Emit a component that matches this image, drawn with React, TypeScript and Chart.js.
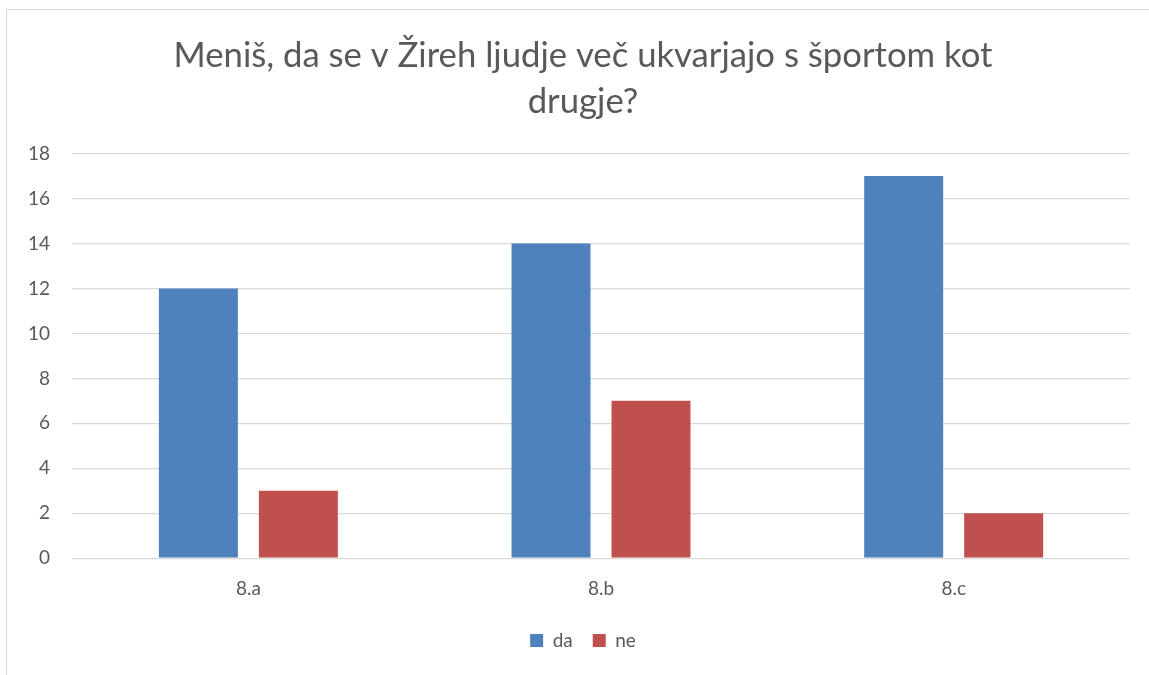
import React, { useEffect, useRef } from "react";
import { Chart, registerables } from "chart.js";

Chart.register(...registerables);

const categories = ["8.a", "8.b", "8.c"];
const daValues = [12, 14, 17];
const neValues = [3, 7, 2];
const titleLines = ["Meniš, da se v Žireh ljudje več ukvarjajo s športom kot", "drugje?"];

export default function App() {
  const ref = useRef<HTMLCanvasElement | null>(null);
  useEffect(() => {
    if (!ref.current) return;
    const chart = new Chart(ref.current, {
      type: "bar",
      data: {
        labels: categories,
        datasets: [
          { label: "da", data: daValues, backgroundColor: "#4F81BD", borderWidth: 0 },
          { label: "ne", data: neValues, backgroundColor: "#C0504D", borderWidth: 0 },
        ],
      },
      options: {
        animation: false,
        responsive: true,
        maintainAspectRatio: false,
        datasets: { bar: { categoryPercentage: 0.567, barPercentage: 0.79 } },
        layout: { padding: { left: 6, right: 10, top: 0, bottom: 15 } },
        plugins: {
          title: {
            display: true,
            text: titleLines,
            color: "#595959",
            font: { family: "Lato", size: 34.7, weight: "normal", lineHeight: 1.32 },
            padding: { top: 33, bottom: 29 },
          },
          legend: {
            position: "bottom",
            labels: {
              color: "#595959",
              font: { family: "Lato", size: 19 },
              boxWidth: 13,
              boxHeight: 13,
              padding: 20,
            },
          },
          tooltip: { enabled: false },
        },
        scales: {
          x: {
            grid: { display: false },
            border: { display: false },
            ticks: { color: "#595959", font: { family: "Lato", size: 19 }, padding: 11 },
          },
          y: {
            min: 0,
            max: 18,
            ticks: { stepSize: 2, color: "#595959", font: { family: "Lato", size: 19 }, padding: 22 },
            grid: { color: "#d9d9d9", lineWidth: 1.3, drawTicks: false },
            border: { display: false },
          },
          yRight: {
            type: "linear",
            position: "right",
            min: 0,
            max: 18,
            grid: { display: false },
            border: { display: false },
            ticks: { display: false },
            afterFit: (s: any) => {
              s.width = 30;
            },
          },
        },
      },
    });
    return () => chart.destroy();
  }, []);
  return (
    <div style={{ position: "fixed", left: 0, top: 0, width: 1149, height: 675, overflow: "hidden", background: "#fff" }}>
      <div style={{ position: "absolute", left: 6, top: 9, width: 1160, height: 700, border: "1px solid #d9d9d9" }} />
      <div style={{ position: "absolute", left: 0, top: 0, width: 1170, height: 675 }}>
        <canvas ref={ref} />
      </div>
    </div>
  );
}
